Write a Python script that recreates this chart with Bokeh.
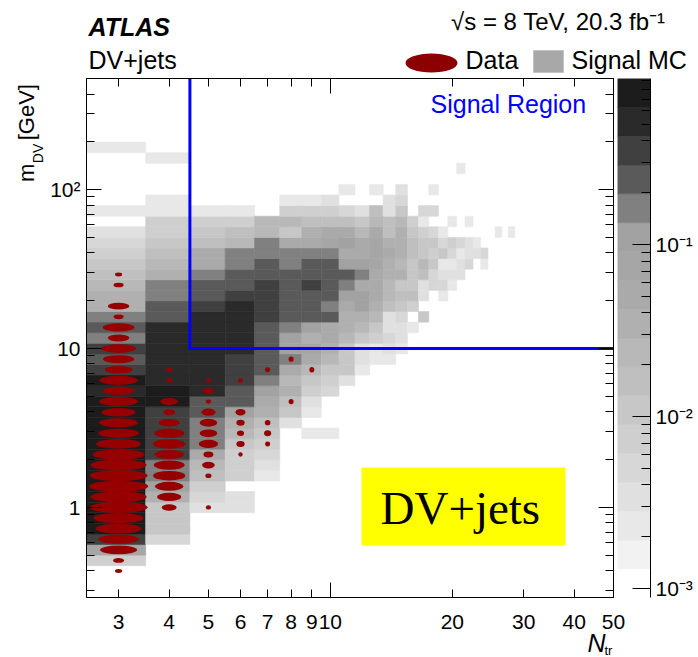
import numpy as np
from bokeh.plotting import figure
from bokeh.models import (Range1d, LogColorMapper, FixedTicker, LogAxis, Label, LinearScale,
                          BoxAnnotation, CustomJSTickFormatter, ColumnDataSource)
from bokeh.layouts import row, column
from bokeh.transform import transform
from bokeh.core.properties import value
from bokeh.embed import file_html
from bokeh.resources import INLINE

# ---------------------------------------------------------------- binning
# Ntr: integer bins; m_DV: 15 logarithmic bins per decade
ntr_lo, ntr_hi = 2.5, 50.0
mass_edges = 10 ** ((np.arange(-8, 42) - 0.5) / 15)   # 49 bins, 0.27 .. 501 GeV
mass_centres = np.sqrt(mass_edges[:-1] * mass_edges[1:])

# ---------------------------------------------------------------- signal MC (fraction per bin)
mc_ntr = [3, 4, 5, 6, 7, 8, 9, 10, 11, 12, 13, 14, 15, 16, 17, 18, 19, 20,
          21, 22, 23, 24, 26, 28]
mc_first_bin = [3, 5, 8, 8, 11, 16, 15, 15, 20, 21, 22, 22, 23, 25, 26, 29, 28, 29,
                30, 31, 32, 31, 34, 34]

mc_n03 = [.0074, .075, .35, .76, .76, .76, .76, .76, .76, .76, .76, .76, .76, .76, .76,
          .76, .52, .76, .35, .24, .35, .16, .24, .16, .035, .035, .024, .016, .011,
          .0074, .005, .0034, 0, .0023, 0, 0, 0, 0, 0, .0023]
mc_n04 = [.005, .011, .011, .011, .035, .11, .16, .16, .35, .35, .35, .35, .35, .76,
          .76, .52, .52, .52, .52, .52, .52, .24, .24, .16, .16, .035, .024, .016,
          .011, .0074, .0074, .0023, .0023, 0, 0, 0, .0023]
mc_n05 = [.0034, .005, .0074, .016, .024, .051, .16, .16, .16, .24, .24, .52, .52, .52,
          .52, .52, .52, .52, .52, .35, .24, .24, .16, .051, .051, .016, .011, .0074,
          .0023]
mc_n06 = [.0034, .0034, 0, .0074, .0074, .0074, .011, .024, .035, .11, .24, .24, .35,
          .35, .35, .52, .52, .52, .52, .52, .35, .24, .24, .16, .16, .024, .016,
          .0074, .0023]
mc_n07 = [.0023, .0034, .005, .0074, .011, .016, .035, .051, .11, .16, .24, .24, .24,
          .24, .24, .35, .35, .35, .35, .24, .24, .16, .16, .024, .024]
mc_n08 = [.0034, .011, .016, .035, .024, .051, .16, .11, .11, .16, .24, .24, .24, .24,
          .24, .16, .16, .051, .011, .024, .0074, .0023]
mc_n09 = [.0023, 0, .0023, .0034, .0074, .011, .024, .051, .075, .035, .11, .24, .24,
          .24, .35, .24, .24, .16, .051, .035, .016, .0074, .0023]
mc_n10 = [.0023, 0, 0, 0, .005, .0074, .011, .024, .035, .051, .051, .24, .16, .24,
          .24, .24, .24, .16, .075, .051, .016, .0074, .0034]
mc_n11 = [.0034, .011, .011, .011, .024, .035, .035, .051, .11, .16, .24, .11, .051,
          .11, .051, .016, .005, 0, .0023]
mc_n12 = [.0023, .0034, .0034, .011, .024, .035, .11, .11, .051, .16, .11, .051, .051,
          .024, .011, .0034]
mc_n13 = [.0023, .0023, .0074, .011, .024, .035, .051, .051, .051, .075, .075, .075,
          .051, .024, .016, 0, .0023]
mc_n14 = [.0023, .0034, .005, .0034, .0034, .016, .024, .024, .035, .035, .051, .035,
          .016, .016, .0034, .0034]
mc_n15 = [.0023, .0034, .0034, .005, .011, .016, .011, .035, .024, .035, .035, .035,
          .024, .011, .005, .0034]
mc_n16 = [.0023, 0, .0074, .016, .011, .011, .011, .016, .016, .011, .0074]
mc_n17 = [.011, 0, .0034, .0034, .016, .024, .011, .011, .0074, .0023, .005]
mc_n18 = [.005, .005, .011, .0074, .011, .005, 0, .005, 0, .0023]
mc_n19 = [.0023, .005, .0034, .0023, .011, .005, .0023]
mc_n20 = [.0023, .0034, .0023, .005, .0074, 0, .0023]
mc_n21 = [.0034, .0034, .0023, .005, 0, 0, 0, 0, 0, 0, .0023]
mc_n22 = [.005, .0034, .0034, 0, .0023]
mc_n23 = [.0034, .0023]
mc_n24 = [.0023, .005]
mc_n26 = [.0023]
mc_n28 = [.0023]
mc_columns = [mc_n03, mc_n04, mc_n05, mc_n06, mc_n07, mc_n08, mc_n09, mc_n10, mc_n11,
              mc_n12, mc_n13, mc_n14, mc_n15, mc_n16, mc_n17, mc_n18, mc_n19, mc_n20,
              mc_n21, mc_n22, mc_n23, mc_n24, mc_n26, mc_n28]

# ---------------------------------------------------------------- data (events per bin)
data_ntr = [3, 4, 5, 6, 7, 8, 9]
data_first_bin = [2, 8, 8, 13, 14, 18, 21]
data_n03 = [30, 70, 790, 950, 1220, 1450, 1920, 1800, 2000, 1920, 1800, 1550, 1160, 950,
            870, 670, 870, 580, 870, 440, 560, 700, 270, 580, 60, 270, 0, 60, 30]
data_n04 = [230, 600, 820, 1070, 980, 870, 1070, 920, 460, 150, 340, 0, 40, 40]
data_n05 = [45, 0, 0, 60, 260, 160, 600, 500, 500, 320, 45, 180, 45]
data_n06 = [45, 160, 115, 160, 230, 0, 0, 60]
data_n07 = [80, 160, 100, 0, 0, 0, 0, 80]
data_n08 = [105, 0, 0, 0, 105]
data_n09 = [125]
data_columns = [data_n03, data_n04, data_n05, data_n06, data_n07, data_n08, data_n09]

# signal region: Ntr >= 5, m_DV > 10 GeV
sr_ntr_min = 4.5
sr_mdv_min = 10.0

# axis ticks
ntr_ticks = [3, 4, 5, 6, 7, 8, 9, 10, 20, 30, 40, 50]
mdv_major = [1, 10, 100]
mdv_minor = [0.3, 0.4, 0.5, 0.6, 0.7, 0.8, 0.9, 2, 3, 4, 5, 6, 7, 8, 9,
             20, 30, 40, 50, 60, 70, 80, 90, 200, 300, 400, 500]

# ---------------------------------------------------------------- colour scale
z_low, z_high = 8.87e-4, 0.923
palette = ["#ffffff", "#f2f2f2", "#e8e8e8", "#e0e0e0", "#d7d7d7", "#cfcfcf", "#c7c7c7",
           "#bfbfbf", "#b8b8b8", "#b0b0b0", "#aaaaaa", "#a6a6a6", "#a2a2a2", "#808080",
           "#5a5a5a", "#404040", "#2a2a2a", "#1c1c1c"]
mapper = LogColorMapper(palette=palette, low=z_low, high=z_high)

FONT = "Liberation Sans"
W, H = 698, 657
HDR_H = 78                    # header strip
FRAME_L, FRAME_R = 86, 613    # plot frame, page pixels
FRAME_H = 519
ROW_H = FRAME_H + 2
FTR_H = H - HDR_H - ROW_H     # strip below the frame: tick labels and x title

# ---------------------------------------------------------------- cells
cl, cr, cb_, ct, cv = [], [], [], [], []
for n, first, col in zip(mc_ntr, mc_first_bin, mc_columns):
    for j, v in enumerate(col):
        if v > 0:
            i = first + j
            cl.append(n - 0.5); cr.append(n + 0.5)
            cb_.append(mass_edges[i]); ct.append(mass_edges[i + 1]); cv.append(v)
cells = ColumnDataSource(dict(left=cl, right=cr, bottom=cb_, top=ct, v=cv))

n_max = max(max(c) for c in data_columns)
ex, ey, ew, eh = [], [], [], []
for n, first, col in zip(data_ntr, data_first_bin, data_columns):
    for j, cnt in enumerate(col):
        if cnt > 0:
            i = first + j
            frac = np.sqrt(cnt / n_max)
            ex.append(n); ey.append(mass_centres[i]); ew.append(frac)
            eh.append(1.05 * np.sqrt(frac) * (mass_edges[i + 1] - mass_edges[i]))
ells = ColumnDataSource(dict(x=ex, y=ey, w=ew, h=eh))

# ---------------------------------------------------------------- main panel
p = figure(width=FRAME_R + 3 - 45, height=ROW_H, x_axis_type="log", y_axis_type="log",
           x_range=Range1d(ntr_lo, ntr_hi), y_range=Range1d(mass_edges[0], mass_edges[-1]),
           output_backend="svg", toolbar_location=None, title_location=None,
           min_border_left=FRAME_L - 45, min_border_right=3, min_border_top=0,
           min_border_bottom=2)
p.grid.visible = False
p.outline_line_color = "black"
p.outline_line_width = 1

p.quad(left="left", right="right", bottom="bottom", top="top", source=cells,
       fill_color=transform("v", mapper), line_color=transform("v", mapper), line_width=0.6)
p.ellipse(x="x", y="y", width="w", height="h", source=ells,
          fill_color="#960000", line_color=None)
p.line(x=[sr_ntr_min, sr_ntr_min, ntr_hi], y=[mass_edges[-1], sr_mdv_min, sr_mdv_min],
       line_color="#0000ff", line_width=3, line_join="miter")

x_ticks = FixedTicker(ticks=ntr_ticks, minor_ticks=[10])
y_ticks = FixedTicker(ticks=mdv_major, minor_ticks=mdv_minor)
blank_fmt = CustomJSTickFormatter(code="return '';")
pow_fmt = CustomJSTickFormatter(code="""
const sup = {'-': '\u207b', '0': '\u2070', '1': '\u00b9', '2': '\u00b2', '3': '\u00b3'};
const e = Math.round(Math.log10(tick));
if (e == 0) return '1';
if (e == 1) return '10';
return '10' + String(e).split('').map(c => sup[c]).join('');
""")

xa = p.xaxis[0]
xa.ticker = x_ticks
xa.formatter = blank_fmt
xa.major_label_text_font_size = "1px"
xa.major_label_standoff = 0
ya = p.yaxis[0]
ya.ticker = y_ticks
ya.formatter = pow_fmt
ya.major_label_text_font = FONT
ya.major_label_text_font_size = "21px"
ya.major_label_text_color = "black"
ya.major_label_standoff = 6
for ax in (xa, ya):
    ax.axis_line_color = "black"
    ax.major_tick_line_color = "black"
    ax.minor_tick_line_color = "black"
    ax.major_tick_out = 0
    ax.minor_tick_out = 0
xa.major_tick_in = 8
xa.minor_tick_in = 15
ya.major_tick_in = 15
ya.minor_tick_in = 8

top_ax = LogAxis(ticker=x_ticks, formatter=blank_fmt, major_tick_in=8, major_tick_out=0,
                 minor_tick_in=15, minor_tick_out=0, major_label_text_font_size="1px",
                 major_label_standoff=0, axis_line_color="black")
right_ax = LogAxis(ticker=y_ticks, formatter=blank_fmt, major_tick_in=15, major_tick_out=0,
                   minor_tick_in=8, minor_tick_out=0, major_label_text_font_size="1px",
                   major_label_standoff=0, axis_line_color="black")
p.add_layout(top_ax, "above")
p.add_layout(right_ax, "right")

p.add_layout(Label(x=344, y=494, x_units="screen", y_units="screen", text="Signal Region",
                   text_font=FONT, text_font_size="25px", text_color="#0000ff",
                   text_baseline="middle", text_align="left"))

p.add_layout(BoxAnnotation(left=275, right=479, bottom=52, top=130, left_units="screen",
                           right_units="screen", bottom_units="screen", top_units="screen",
                           fill_color="#ffff00", fill_alpha=1, line_color=None))
p.add_layout(Label(x=294, y=90, x_units="screen", y_units="screen", text="DV+jets",
                   text_font="Liberation Serif", text_font_size="47px", text_color="black",
                   text_baseline="middle", text_align="left"))

txt = dict(text_font=value(FONT), text_color="black", text_baseline="middle")

# ---------------------------------------------------------------- y-axis title strip
ytl = figure(width=45, height=ROW_H, x_range=Range1d(0, 45), y_range=Range1d(ROW_H, 0),
             x_axis_location=None, y_axis_location=None, min_border=0,
             title_location=None, output_backend="svg", toolbar_location=None)
ytl.grid.visible = False
ytl.outline_line_color = None
ytl.text(x=[26], y=[104], text=["m"], angle=np.pi / 2, text_font_size="22px",
         text_align="left", **txt)
ytl.text(x=[37], y=[85], text=["DV"], angle=np.pi / 2, text_font_size="14px",
         text_align="left", **txt)
ytl.text(x=[26], y=[62], text=["[GeV]"], angle=np.pi / 2, text_font_size="22px",
         text_align="left", **txt)

# ---------------------------------------------------------------- colour bar
cbf = figure(width=W - FRAME_R - 3, height=ROW_H, y_axis_type="log", x_range=Range1d(0, 1),
             y_range=Range1d(z_low, z_high), x_axis_location=None, y_axis_location=None,
             output_backend="svg", toolbar_location=None, title_location=None,
             min_border_left=1, min_border_right=48, min_border_top=0, min_border_bottom=2)
cbf.grid.visible = False
cbf.outline_line_color = None
levels = z_low * (z_high / z_low) ** (np.arange(len(palette) + 1) / len(palette))
cbf.quad(left=0, right=1, bottom=levels[:-1], top=levels[1:], fill_color=palette,
         line_color=palette, line_width=0.6)
cb_ticks = FixedTicker(ticks=[1e-3, 1e-2, 1e-1],
                       minor_ticks=[m * 10.0 ** e for e in (-3, -2, -1) for m in range(2, 10)])
cb_ax = LogAxis(ticker=cb_ticks, formatter=pow_fmt, major_tick_in=18, major_tick_out=0,
                minor_tick_in=9, minor_tick_out=0, axis_line_color="black",
                major_tick_line_color="black", minor_tick_line_color="black",
                major_label_text_font=FONT, major_label_text_font_size="21px",
                major_label_text_color="black", major_label_standoff=5)
cbf.add_layout(cb_ax, "right")

# ---------------------------------------------------------------- header
hdr = figure(width=W, height=HDR_H, x_range=Range1d(0, W), y_range=Range1d(HDR_H, 0),
             x_axis_location=None, y_axis_location=None, min_border=0,
             title_location=None, output_backend="svg", toolbar_location=None)
hdr.grid.visible = False
hdr.outline_line_color = None
hdr.text(x=[88], y=[26], text=["ATLAS"], text_font_size="25px",
         text_font_style="bold italic", **txt)
hdr.text(x=[88], y=[59.5], text=["DV+jets"], text_font_size="25px", **txt)
hdr.text(x=[665], y=[20.5], text=["\u221as = 8 TeV, 20.3 fb\u207b\u00b9"],
         text_font_size="24px", text_align="right", **txt)
hdr.ellipse(x=[431], y=[62.5], width=52, height=19, fill_color="#8c0000", line_color=None)
hdr.text(x=[465], y=[59.5], text=["Data"], text_font_size="25px", **txt)
hdr.rect(x=[548], y=[61], width=30, height=22, fill_color="#a8a8a8", line_color="#c4c4c4")
hdr.text(x=[571], y=[59.5], text=["Signal MC"], text_font_size="25px", **txt)

# ---------------------------------------------------------------- footer: Ntr labels + title
# log x scale continued across the full width so that it lines up with the frame above
decades_per_px = np.log10(ntr_hi / ntr_lo) / (FRAME_R - FRAME_L)
ftr_x = Range1d(ntr_lo * 10 ** (-FRAME_L * decades_per_px),
                ntr_lo * 10 ** ((W - FRAME_L) * decades_per_px))
ftr = figure(width=W, height=FTR_H, x_axis_type="log", x_range=ftr_x,
             y_range=Range1d(FTR_H, 0), x_axis_location=None, y_axis_location=None,
             min_border=0, title_location=None, output_backend="svg", toolbar_location=None)
ftr.grid.visible = False
ftr.outline_line_color = None
ftr.extra_x_ranges = {"px": Range1d(0, W)}
ftr.extra_x_scales = {"px": LinearScale()}
ftr.text(x=ntr_ticks, y=[22] * len(ntr_ticks), text=[str(t) for t in ntr_ticks],
         text_font_size="21px", text_align="center", **txt)
ftr.text(x=[587], y=[43], text=["N"], x_range_name="px", text_font_size="25px",
         text_font_style="italic", **txt)
ftr.text(x=[604], y=[51], text=["tr"], x_range_name="px", text_font_size="13px", **txt)

layout = column(hdr, row(ytl, p, cbf), ftr)
open("out.html", "w").write(file_html(layout, INLINE))
